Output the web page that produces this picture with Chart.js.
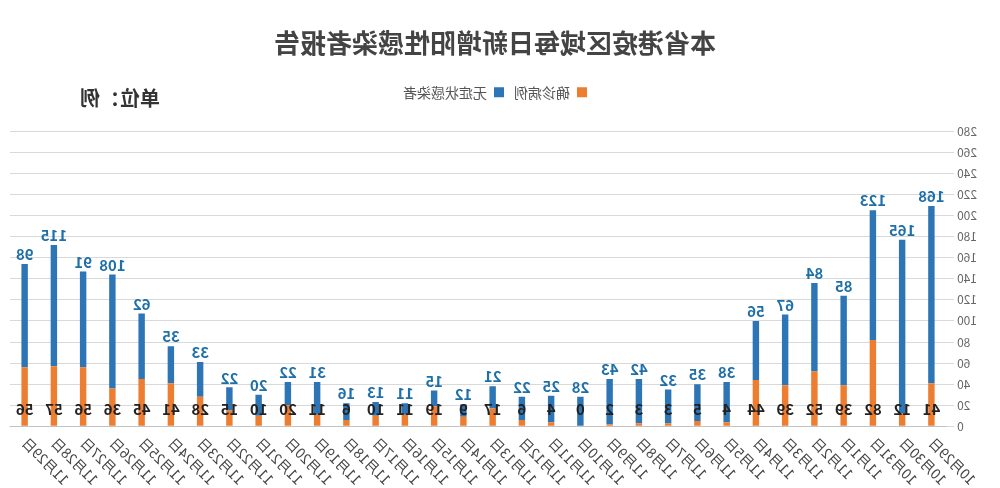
<!DOCTYPE html>
<html><head><meta charset="utf-8">
<script src="https://cdn.jsdelivr.net/npm/chart.js@4"></script>
<style>html,body{margin:0;padding:0;background:#fff}#wrap{width:1000px;height:488px;transform:scaleX(-1)}</style>
</head><body><div id="wrap"><canvas id="c" width="1000" height="488"></canvas></div>
<script>
const categories=["10月29日","10月30日","10月31日","11月1日","11月2日","11月3日","11月4日","11月5日","11月6日","11月7日","11月8日","11月9日","11月10日","11月11日","11月12日","11月13日","11月14日","11月15日","11月16日","11月17日","11月18日","11月19日","11月20日","11月21日","11月22日","11月23日","11月24日","11月25日","11月26日","11月27日","11月28日","11月29日"];
const confirmed=[41,12,82,39,52,39,44,4,5,3,3,2,0,4,6,17,9,19,11,10,6,11,20,10,15,28,41,45,36,56,57,56];
const asymptomatic=[168,165,123,85,84,67,56,38,35,32,42,43,28,25,22,21,12,15,11,13,16,31,22,20,22,33,35,62,108,91,115,98];
const F='"Noto Sans CJK SC","Noto Sans",sans-serif';
const legendPad={id:'lp',beforeInit(ch){const f=ch.legend.fit;ch.legend.fit=function(){f.bind(ch.legend)();this.height+=22;};}};
const labels={id:'lab',afterDatasetsDraw(ch){const c=ch.ctx;const m1=ch.getDatasetMeta(1),y=ch.scales.y;c.save();c.textAlign='center';
m1.data.forEach((b,i)=>{c.font='bold 15px '+F;c.fillStyle='#1F6FA8';c.textBaseline='bottom';c.fillText(asymptomatic[i],b.x,b.y-2);
c.fillStyle='#222';c.textBaseline='middle';c.fillText(confirmed[i],b.x,y.getPixelForValue(0)-17);});
c.font='bold 20px '+F;c.fillStyle='#333';c.textAlign='left';c.fillText('单位：例',840,98);c.restore();}};
new Chart(document.getElementById('c'),{type:'bar',data:{labels:categories,datasets:[
{label:'确诊病例',data:confirmed,backgroundColor:'#ED7D31',barPercentage:0.22,categoryPercentage:1},
{label:'无症状感染者',data:asymptomatic,backgroundColor:'#2E75B6',barPercentage:0.22,categoryPercentage:1}]},
options:{responsive:false,animation:false,layout:{padding:{left:20,right:10,bottom:0,top:0}},
plugins:{title:{display:true,text:'本省港疫区域每日新增阳性感染者报告',font:{size:26,weight:'bold',family:F},color:'#444',padding:{top:28,bottom:16}},
legend:{labels:{boxWidth:10,boxHeight:10,font:{size:14,family:F},color:'#555'}},tooltip:{enabled:false}},
scales:{x:{stacked:true,grid:{display:false},ticks:{autoSkip:false,maxRotation:45,minRotation:45,padding:0,font:{size:14,family:F},color:'#444'}},
y:{stacked:true,min:0,max:280,ticks:{stepSize:20,font:{size:12,family:F},color:'#666'},grid:{color:'#d9d9d9'},border:{display:false}}}},
plugins:[legendPad,labels]});
</script></body></html>
